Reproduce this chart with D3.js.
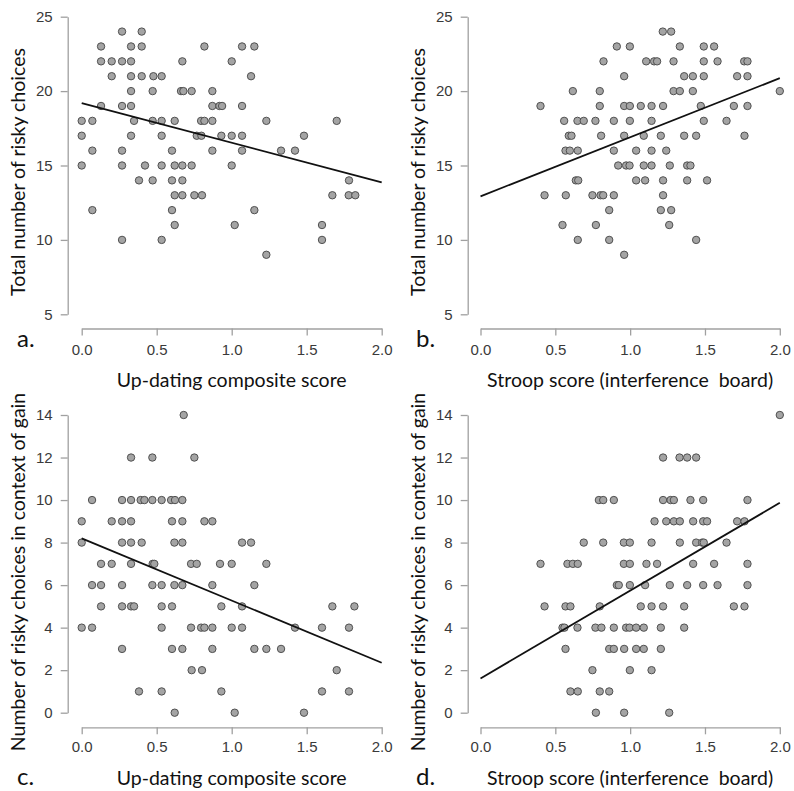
<!DOCTYPE html>
<html>
<head>
<meta charset="utf-8">
<script src="https://cdn.jsdelivr.net/npm/d3@7"></script>
<style>
  html, body { margin: 0; padding: 0; background: #fff; }
  svg { display: block; }
</style>
</head>
<body>
<svg id="chart" width="794" height="791"></svg>
<script>
// ---------------- DATA ----------------
const xTicks = [0, 0.5, 1, 1.5, 2];
const xTickLabels = ["0.0", "0.5", "1.0", "1.5", "2.0"];
const yTicksTotal = [5, 10, 15, 20, 25];
const yTicksGain = [0, 2, 4, 6, 8, 10, 12, 14];

const xTitleUpdating = "Up-dating composite score";
const xTitleStroop = "Stroop score (interference  board)";
const yTitleTotal = "Total number of risky choices";
const yTitleGain = "Number of risky choices in context of gain";
const panelLetters = ["a.", "b.", "c.", "d."];

// [x, y] : updating score vs total risky choices
const pointsA = [
[0.269,24],[0.4,24],
[0.129,23],[0.329,23],[0.4,23],[0.818,23],[1.069,23],[1.151,23],
[0.129,22],[0.2,22],[0.269,22],[0.329,22],[0.671,22],[1.0,22],
[0.2,21],[0.329,21],[0.4,21],[0.478,21],[0.533,21],[1.129,21],
[0.329,20],[0.473,20],[0.662,20],[0.678,20],[0.733,20],[0.871,20],
[0.129,19],[0.269,19],[0.329,19],[0.871,19],[0.918,19],[0.936,19],[1.069,19],
[0,18],[0.071,18],[0.349,18],[0.473,18],[0.533,18],[0.62,18],[0.796,18],[0.818,18],[0.871,18],[1.231,18],[1.7,18],
[0,17],[0.329,17],[0.533,17],[0.767,17],[0.798,17],[0.931,17],[1.0,17],[1.069,17],[1.482,17],
[0.071,16],[0.269,16],[0.602,16],[0.871,16],[1.069,16],[1.329,16],[1.422,16],
[0,15],[0.269,15],[0.422,15],[0.533,15],[0.62,15],[0.671,15],[0.733,15],[1.0,15],
[0.382,14],[0.473,14],[0.602,14],[0.671,14],[1.782,14],
[0.62,13],[0.671,13],[0.751,13],[0.802,13],[1.671,13],[1.78,13],[1.824,13],
[0.071,12],[0.602,12],[1.151,12],
[0.62,11],[1.02,11],[1.602,11],
[0.269,10],[0.533,10],[1.602,10],
[1.231,9]
];

// [x, y] : Stroop score vs total risky choices
const pointsB = [
[1.218,24],[1.274,24],
[0.911,23],[0.998,23],[1.332,23],[1.492,23],[1.561,23],
[0.822,22],[1.107,22],[1.16,22],[1.18,22],[1.29,22],[1.492,22],[1.584,22],[1.762,22],[1.784,22],
[0.96,21],[1.361,21],[1.419,21],[1.492,21],[1.715,21],[1.784,21],
[0.617,20],[0.797,20],[1.29,20],[1.332,20],[1.419,20],[2.0,20],
[0.401,19],[0.797,19],[0.96,19],[0.998,19],[1.071,19],[1.143,19],[1.22,19],[1.472,19],[1.693,19],[1.784,19],
[0.559,18],[0.648,18],[0.69,18],[0.768,18],[0.891,18],[0.998,18],[1.143,18],[1.492,18],[1.644,18],
[0.59,17],[0.608,17],[0.806,17],[0.96,17],[1.091,17],[1.205,17],[1.361,17],[1.441,17],[1.764,17],
[0.568,16],[0.597,16],[0.65,16],[0.891,16],[1.04,16],[1.143,16],[1.241,16],
[0.92,15],[0.973,15],[0.996,15],[1.091,15],[1.143,15],[1.265,15],[1.381,15],[1.403,15],
[0.637,14],[0.653,14],[1.04,14],[1.1,14],[1.22,14],[1.381,14],[1.514,14],
[0.428,13],[0.57,13],[0.748,13],[0.802,13],[0.82,13],[0.891,13],[1.22,13],
[0.86,12],[1.205,12],[1.274,12],
[0.548,11],[0.771,11],[1.261,11],
[0.65,10],[0.86,10],[1.441,10],
[0.96,9]
];

// [x, y] : updating score vs risky choices in gain context
const pointsC = [
[0.68,14],
[0.329,12],[0.471,12],[0.751,12],
[0.069,10],[0.269,10],[0.329,10],[0.393,10],[0.418,10],[0.471,10],[0.533,10],[0.596,10],[0.622,10],[0.671,10],
[0,9],[0.2,9],[0.269,9],[0.329,9],[0.602,9],[0.671,9],[0.818,9],[0.871,9],
[0,8],[0.269,8],[0.329,8],[0.4,8],[0.618,8],[0.671,8],[1.069,8],[1.129,8],
[0.129,7],[0.2,7],[0.329,7],[0.473,7],[0.484,7],[0.729,7],[0.767,7],[0.922,7],[1.0,7],[1.231,7],
[0.069,6],[0.129,6],[0.269,6],[0.471,6],[0.533,6],[0.618,6],[0.671,6],[0.871,6],[1.151,6],
[0.129,5],[0.269,5],[0.329,5],[0.349,5],[0.533,5],[0.602,5],[0.931,5],[1.069,5],[1.671,5],[1.818,5],
[0,4],[0.069,4],[0.533,4],[0.729,4],[0.796,4],[0.818,4],[0.871,4],[1.0,4],[1.069,4],[1.422,4],[1.602,4],[1.782,4],
[0.269,3],[0.602,3],[0.671,3],[0.871,3],[1.151,3],[1.231,3],[1.329,3],
[0.733,2],[0.802,2],[1.7,2],
[0.382,1],[0.533,1],[0.931,1],[1.602,1],[1.782,1],
[0.62,0],[1.02,0],[1.482,0]
];

// [x, y] : Stroop score vs risky choices in gain context
const pointsD = [
[2.0,14],
[1.22,12],[1.33,12],[1.381,12],[1.441,12],
[0.791,10],[0.82,10],[0.891,10],[1.22,10],[1.27,10],[1.292,10],[1.403,10],[1.488,10],[1.784,10],
[1.163,9],[1.241,9],[1.292,9],[1.332,9],[1.421,9],[1.488,9],[1.514,9],[1.715,9],[1.764,9],
[0.69,8],[0.82,8],[0.958,8],[0.998,8],[1.143,8],[1.332,8],[1.441,8],[1.481,8],[1.492,8],[1.644,8],
[0.401,7],[0.581,7],[0.617,7],[0.65,7],[0.958,7],[0.998,7],[1.109,7],[1.18,7],[1.421,7],[1.561,7],[1.784,7],
[0.911,6],[0.924,6],[0.998,6],[1.1,6],[1.265,6],[1.381,6],[1.488,6],[1.584,6],[1.784,6],
[0.428,5],[0.568,5],[0.601,5],[0.797,5],[1.071,5],[1.143,5],[1.22,5],[1.361,5],[1.693,5],[1.764,5],
[0.548,4],[0.561,4],[0.648,4],[0.768,4],[0.808,4],[0.891,4],[0.973,4],[0.996,4],[1.04,4],[1.091,4],[1.205,4],[1.361,4],
[0.568,3],[0.86,3],[0.891,3],[0.96,3],[1.04,3],[1.091,3],[1.205,3],
[0.748,2],[0.998,2],[1.143,2],
[0.601,1],[0.65,1],[0.797,1],[0.86,1],
[0.771,0],[0.96,0],[1.261,0]
];

// regression lines: [x, y] end points
const fitA = [[0, 19.19], [2, 13.87]];
const fitB = [[0, 12.93], [2, 20.87]];
const fitC = [[0, 8.2], [2, 2.35]];
const fitD = [[0, 1.61], [2, 9.87]];

// ---------------- LAYOUT ----------------
const svg = d3.select("#chart");
const panels = [
  { pts: pointsA, fit: fitA, yTicks: yTicksTotal, yTitle: yTitleTotal, xTitle: xTitleUpdating,
    xr: [81.7, 381.7], yr: [314.3, 16.7], yAxisX: 67.7, xAxisY: 328.5, ydom: [5, 25],
    yTitlePos: [18, 172], xTitleY: 387, letterPos: [17, 347], tickPad: 9 },
  { pts: pointsB, fit: fitB, yTicks: yTicksTotal, yTitle: yTitleTotal, xTitle: xTitleStroop,
    xr: [480.5, 779.8], yr: [314.3, 16.7], yAxisX: 467.7, xAxisY: 328.5, ydom: [5, 25],
    yTitlePos: [418, 172], xTitleY: 387, letterPos: [416, 347], tickPad: 9 },
  { pts: pointsC, fit: fitC, yTicks: yTicksGain, yTitle: yTitleGain, xTitle: xTitleUpdating,
    xr: [81.7, 381.7], yr: [712.7, 415], yAxisX: 67.7, xAxisY: 727.3, ydom: [0, 14],
    yTitlePos: [18, 572], xTitleY: 785, letterPos: [17, 785], tickPad: 7 },
  { pts: pointsD, fit: fitD, yTicks: yTicksGain, yTitle: yTitleGain, xTitle: xTitleStroop,
    xr: [480.5, 779.8], yr: [712.7, 415], yAxisX: 467.7, xAxisY: 727.3, ydom: [0, 14],
    yTitlePos: [418, 572], xTitleY: 785, letterPos: [416, 785], tickPad: 7 }
];

const tickFont = "'Liberation Sans', Arial, sans-serif";
const titleFont = "Lato, 'Open Sans', sans-serif";

panels.forEach((p, i) => {
  const x = d3.scaleLinear().domain([0, 2]).range(p.xr);
  const y = d3.scaleLinear().domain(p.ydom).range(p.yr);
  const g = svg.append("g");

  // y axis
  const ya = g.append("g").attr("transform", `translate(${p.yAxisX},0)`)
    .call(d3.axisLeft(y).tickValues(p.yTicks).tickSize(7).tickSizeOuter(0).tickPadding(8));
  // x axis
  const xa = g.append("g").attr("transform", `translate(0,${p.xAxisY})`)
    .call(d3.axisBottom(x).tickValues(xTicks).tickFormat((d, k) => xTickLabels[k])
      .tickSize(7).tickSizeOuter(0).tickPadding(p.tickPad));
  [ya, xa].forEach(a => {
    a.attr("font-size", null).attr("font-family", null);
    a.select(".domain").attr("stroke", "#a0a0a0").attr("stroke-width", 1.3);
    a.selectAll(".tick line").attr("stroke", "#a0a0a0").attr("stroke-width", 1.3);
    a.selectAll(".tick text").attr("fill", "#3a3a3a")
      .style("font-family", tickFont).style("font-size", "15px");
  });

  // points
  g.append("g").selectAll("circle").data(p.pts).join("circle")
    .attr("cx", d => x(d[0])).attr("cy", d => y(d[1])).attr("r", 3.7)
    .attr("fill", "#a4a4a4").attr("stroke", "#505050").attr("stroke-width", 1);

  // fit line
  g.append("path").datum(p.fit)
    .attr("d", d3.line().x(d => x(d[0])).y(d => y(d[1])))
    .attr("stroke", "#111").attr("stroke-width", 1.8).attr("fill", "none");

  // titles
  g.append("text")
    .attr("transform", `translate(${p.yTitlePos[0]},${p.yTitlePos[1]}) rotate(-90)`)
    .attr("dy", "0.35em").attr("text-anchor", "middle")
    .style("font-family", titleFont).style("font-size", "19.5px").attr("fill", "#111")
    .text(p.yTitle);
  g.append("text")
    .attr("x", (p.xr[0] + p.xr[1]) / 2).attr("y", p.xTitleY)
    .attr("text-anchor", "middle").style("white-space", "pre")
    .style("font-family", titleFont).style("font-size", "19.5px").attr("fill", "#111")
    .text(p.xTitle);
  g.append("text")
    .attr("x", p.letterPos[0]).attr("y", p.letterPos[1])
    .style("font-family", titleFont).style("font-size", "24px").attr("fill", "#111")
    .text(panelLetters[i]);
});
</script>
</body>
</html>
